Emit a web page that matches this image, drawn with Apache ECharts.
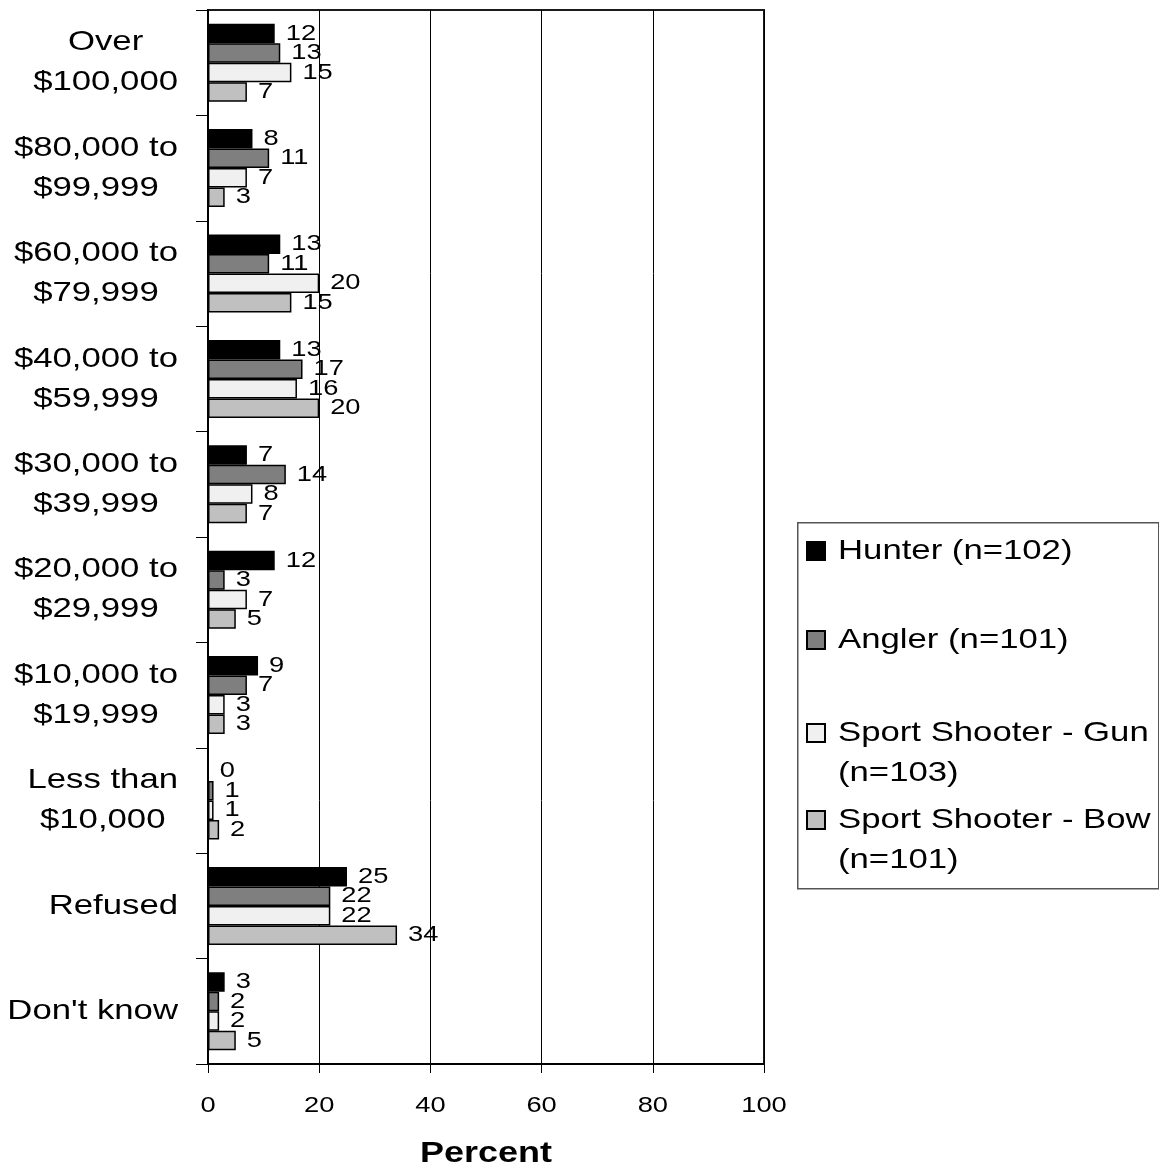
<!DOCTYPE html>
<html>
<head>
<meta charset="utf-8">
<script src="https://cdn.jsdelivr.net/npm/echarts@6/dist/echarts.min.js"></script>
<style>
html,body{margin:0;padding:0;background:#fff;}
#chart{width:1159px;height:1169px;}
</style>
</head>
<body>
<div id="chart"></div>
<script>
// ---- data ----
const categories = ['Over\n$100,000', '$80,000 to\n$99,999', '$60,000 to\n$79,999', '$40,000 to\n$59,999',
  '$30,000 to\n$39,999', '$20,000 to\n$29,999', '$10,000 to\n$19,999', 'Less than\n$10,000', 'Refused', "Don't know"];
const seriesNames = ['Hunter (n=102)', 'Angler (n=101)', 'Sport Shooter - Gun\n(n=103)', 'Sport Shooter - Bow\n(n=101)'];
const hunter = [12, 8, 13, 13, 7, 12, 9, 0, 25, 3];
const angler = [13, 11, 11, 17, 14, 3, 7, 1, 22, 2];
const gun    = [15, 7, 20, 16, 8, 7, 3, 1, 22, 2];
const bow    = [7, 3, 15, 20, 7, 5, 3, 2, 34, 5];
const xTicks = [0, 20, 40, 60, 80, 100];

// ---- text horizontal stretch (reference text is wide) ----
(function () {
  const SX = 1.24;
  const p = CanvasRenderingContext2D.prototype;
  const of = p.fillText, os = p.strokeText, om = p.measureText;
  p.fillText = function (t, x, y, mw) {
    this.save(); this.translate(x, y); this.scale(SX, 1);
    if (mw === undefined) of.call(this, t, 0, 0); else of.call(this, t, 0, 0, mw / SX);
    this.restore();
  };
  p.strokeText = function (t, x, y, mw) {
    this.save(); this.translate(x, y); this.scale(SX, 1);
    if (mw === undefined) os.call(this, t, 0, 0); else os.call(this, t, 0, 0, mw / SX);
    this.restore();
  };
  p.measureText = function (t) {
    const m = om.call(this, t);
    return {
      width: m.width * SX,
      actualBoundingBoxAscent: m.actualBoundingBoxAscent,
      actualBoundingBoxDescent: m.actualBoundingBoxDescent,
      actualBoundingBoxLeft: m.actualBoundingBoxLeft * SX,
      actualBoundingBoxRight: m.actualBoundingBoxRight * SX,
      fontBoundingBoxAscent: m.fontBoundingBoxAscent,
      fontBoundingBoxDescent: m.fontBoundingBoxDescent
    };
  };
})();

const FONT = 'Liberation Sans';
const colors = ['#000000', '#7f7f7f', '#f0f0f0', '#c0c0c0'];
const values = [hunter, angler, gun, bow];

const series = values.map((d, i) => ({
  name: seriesNames[i],
  type: 'bar',
  data: d,
  barGap: '0%',
  barCategoryGap: '26%',
  itemStyle: { color: colors[i], borderColor: '#000', borderWidth: 1.5 },
  label: {
    show: true, position: 'right', distance: 11,
    fontFamily: FONT, fontSize: 22, color: '#000'
  },
  emphasis: { disabled: true },
  silent: true
}));

// separate legends to reproduce the reference spacing
const squareTop = 'path://M0,0M0,58M0,0h18v18h-18z';
const legendBase = {
  orient: 'vertical', left: 806, padding: 0, itemWidth: 18, selectedMode: false,
  textStyle: { fontFamily: FONT, fontSize: 28, color: '#000', lineHeight: 40, padding: [0, 0, 0, 8] }
};
const legends = [
  Object.assign({}, legendBase, { top: 531, itemHeight: 18, data: [{ name: seriesNames[0], icon: 'rect' }] }),
  Object.assign({}, legendBase, { top: 620, itemHeight: 18, data: [{ name: seriesNames[1], icon: 'rect' }] }),
  Object.assign({}, legendBase, { top: 713, itemHeight: 58, data: [{ name: seriesNames[2], icon: squareTop }] }),
  Object.assign({}, legendBase, { top: 800, itemHeight: 58, data: [{ name: seriesNames[3], icon: squareTop }] })
];

const option = {
  animation: false,
  backgroundColor: '#fff',
  grid: {
    left: 208, right: 395, top: 10, bottom: 105,
    containLabel: false, outerBoundsMode: 'none',
    show: true, borderColor: '#1a1a1a', borderWidth: 2, backgroundColor: 'transparent'
  },
  xAxis: {
    type: 'value', min: 0, max: 100, interval: 20,
    name: 'Percent', nameLocation: 'middle', nameGap: 72,
    nameTextStyle: { fontFamily: FONT, fontSize: 29, fontWeight: 'bold', color: '#000' },
    axisLine: { show: true, lineStyle: { color: '#000', width: 2 } },
    axisTick: { show: true, inside: false, length: 9, lineStyle: { color: '#000', width: 1 } },
    axisLabel: { fontFamily: FONT, fontSize: 22, color: '#000', margin: 28,
      formatter: v => (xTicks.indexOf(v) >= 0 ? String(v) : '') },
    splitLine: { show: true, lineStyle: { color: '#000', width: 1 } }
  },
  yAxis: {
    type: 'category', data: categories, inverse: true,
    axisLine: { show: true, lineStyle: { color: '#000', width: 2 } },
    axisTick: { show: true, inside: false, length: 12, lineStyle: { color: '#000', width: 1 } },
    axisLabel: {
      fontFamily: FONT, fontSize: 28, color: '#000', margin: 30, align: 'right',
      formatter: v => v.split('\n').map(s => '{c|' + s + '}').join('\n'),
      rich: { c: { align: 'center', fontFamily: FONT, fontSize: 28, color: '#000', lineHeight: 40 } }
    },
    splitLine: { show: false }
  },
  legend: legends,
  graphic: [{
    type: 'rect', left: 797, top: 522, z: -1,
    shape: { width: 361, height: 366 },
    style: { fill: '#fff', stroke: '#555', lineWidth: 1.5 }
  }],
  series: series
};

const chart = echarts.init(document.getElementById('chart'), null, { renderer: 'canvas' });
chart.setOption(option);
</script>
</body>
</html>
